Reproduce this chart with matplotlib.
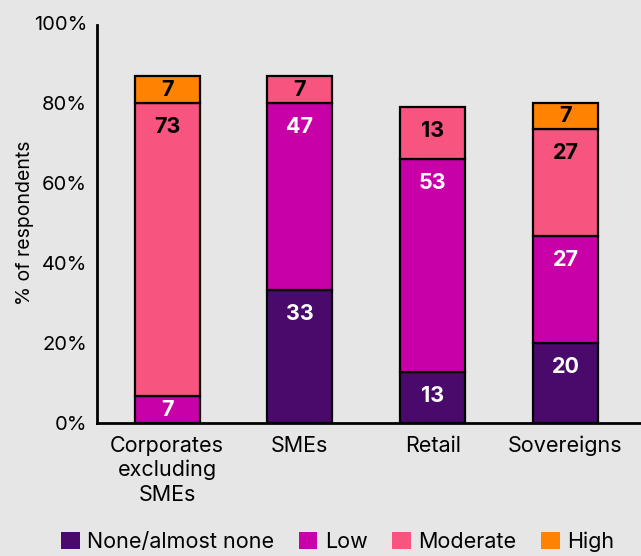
import numpy as np
import matplotlib.pyplot as plt

plt.rcParams['font.family'] = ['Inter', 'DejaVu Sans']

categories = ['Corporates\nexcluding\nSMEs', 'SMEs', 'Retail', 'Sovereigns']
levels = ['None/almost none', 'Low', 'Moderate', 'High']
# % of respondents per risk level
none_vals = [0, 33.3, 12.8, 20.0]
low_vals = [6.7, 46.7, 53.2, 26.7]
moderate_vals = [73.3, 6.7, 12.9, 26.7]
high_vals = [6.7, 0, 0, 6.7]

colors = ['#4a0a6b', '#c800a8', '#f75480', '#ff8200']
text_colors = ['white', 'white', 'black', 'black']
bg = '#e6e6e6'

fig = plt.figure(figsize=(6.41, 5.56), dpi=100, facecolor=bg)
ax = fig.add_axes([0.151, 0.2392, 0.847, 0.7194])
ax.set_facecolor(bg)

x = np.arange(len(categories))
bottom = np.zeros(len(categories))
for vals, col, tcol, name in zip([none_vals, low_vals, moderate_vals, high_vals],
                                 colors, text_colors, levels):
    vals = np.array(vals, dtype=float)
    mask = vals > 0
    ax.bar(x[mask], vals[mask], 0.49, bottom=bottom[mask], color=col,
           edgecolor='black', linewidth=1.6, label=name, zorder=3)
    for xi, v, b in zip(x[mask], vals[mask], bottom[mask]):
        # thin segments get a centred label, the rest sit near the top
        ty = b + v / 2 if v < 10 else b + v - 6
        ax.text(xi, ty, f'{v:.0f}', ha='center', va='center', color=tcol,
                fontsize=15.5, fontweight='bold', zorder=4)
    bottom += vals

ax.set_xlim(-0.53, 3.56)
ax.set_ylim(0, 100)
ax.set_yticks(np.arange(0, 101, 20))
ax.set_yticklabels([f'{t}%' for t in range(0, 101, 20)], fontsize=14.5)
ax.set_xticks(x)
ax.set_xticklabels(categories, fontsize=15.5, linespacing=1.27)
ax.tick_params(length=0)
ax.tick_params(axis='y', pad=7)
ax.tick_params(axis='x', pad=9)
ax.set_ylabel('% of respondents', fontsize=14, labelpad=0)

for s in ['top', 'right']:
    ax.spines[s].set_visible(False)
ax.spines['left'].set_bounds(0, 99.4)
for s in ['left', 'bottom']:
    ax.spines[s].set_linewidth(2)
    ax.spines[s].set_color('black')

handles, labels = ax.get_legend_handles_labels()
fig.legend(handles, labels, loc='center', bbox_to_anchor=(0.527, 0.025),
           ncol=4, frameon=False, fontsize=15.5, handlelength=0.85,
           handleheight=0.85, handletextpad=0.35, columnspacing=1.15,
           borderaxespad=0)
for h in fig.legends[0].legend_handles:
    h.set_edgecolor('none')

fig.savefig('out.png', dpi=100, facecolor=bg)
